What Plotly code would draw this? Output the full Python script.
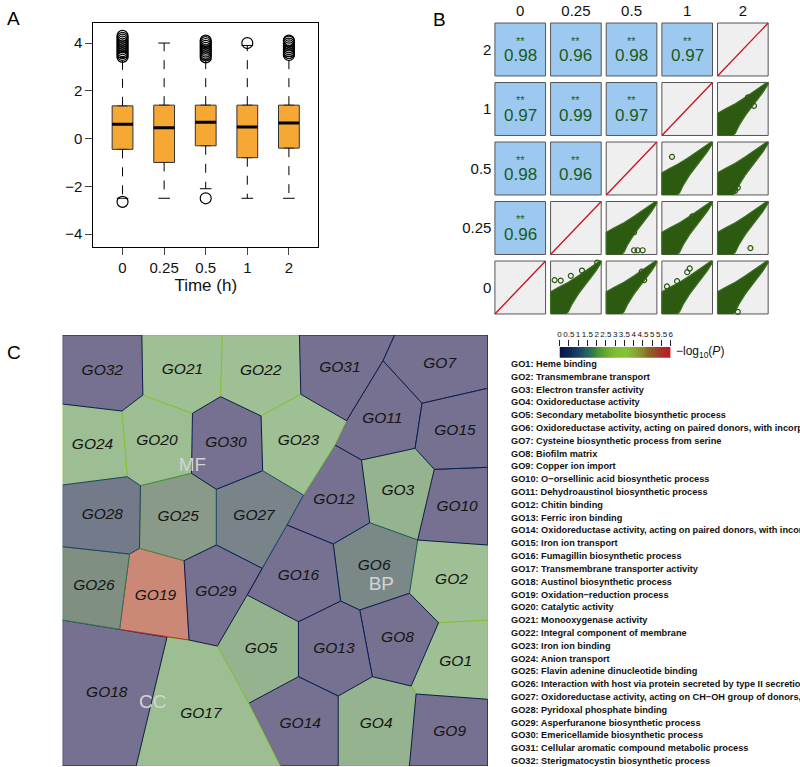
import plotly.graph_objects as go
import numpy as np

W, H = 800, 767
FONT = "Liberation Sans, Arial, sans-serif"

# ---------------- Panel A data ----------------
times = ["0", "0.25", "0.5", "1", "2"]
box_q1 = [-0.45, -1.0, -0.3, -0.8, -0.4]
box_med = [0.6, 0.45, 0.68, 0.48, 0.65]
box_q3 = [1.37, 1.4, 1.4, 1.4, 1.4]
whisk_lo = [-2.5, -2.5, -2.1, -2.5, -2.5]
whisk_hi = [3.4, 4.0, 3.3, 3.9, 3.45]
out_t0 = [3.42, 3.5, 3.58, 3.66, 3.74, 3.82, 3.9, 3.98, 4.06, 4.14, 4.22, 4.3, -2.65]
out_t025 = []
out_t05 = [3.4, 3.48, 3.56, 3.64, 3.72, 3.8, 3.88, 3.96, 4.04, 4.1, -2.5]
out_t1 = [4.0]
out_t2 = [3.5, 3.58, 3.66, 3.74, 3.82, 3.9, 3.98, 4.06, 4.1]
outliers = [out_t0, out_t025, out_t05, out_t1, out_t2]

# ---------------- Panel B data ----------------
labels_B = ["0", "0.25", "0.5", "1", "2"]
cor_rows = [4, 4, 4, 4, 3, 3, 3, 2, 2, 1]
cor_cols = [0, 1, 2, 3, 0, 1, 2, 0, 1, 0]
cor_vals = ["0.98", "0.96", "0.98", "0.97", "0.97", "0.99", "0.97", "0.98", "0.96", "0.96"]
# scatter cloud envelope (unit coords inside a cell)
env_u = [0.0, 0.0, 0.15, 0.35, 0.55, 0.75, 0.9, 0.97, 1.0, 1.0, 0.9, 0.72, 0.55, 0.42, 0.35, 0.3]
env_v = [0.0, 0.42, 0.5, 0.6, 0.72, 0.85, 0.95, 1.0, 1.0, 0.97, 0.82, 0.6, 0.38, 0.18, 0.04, 0.0]
sc_rows = [0, 0, 0, 0, 1, 1, 1, 2, 2, 3]
sc_cols = [1, 2, 3, 4, 2, 3, 4, 3, 4, 4]
sc_out_u = [[0.08, 0.2, 0.4, 0.62, 0.92], [0.1, 0.7, 0.75, 0.3], [0.1, 0.55, 0.5, 0.3],
            [0.4, 0.6, 0.72], [0.55, 0.62, 0.72, 0.55], [0.4, 0.6], [0.65, 0.5],
            [0.2, 0.4], [0.35, 0.4, 0.5], [0.5, 0.72, 0.6]]
sc_out_v = [[0.64, 0.63, 0.72, 0.82, 0.97], [0.3, 0.8, 0.64, 0.42], [0.52, 0.86, 0.79, 0.62],
            [0.04, 0.62, 0.74], [0.08, 0.08, 0.08, 0.42], [0.52, 0.72], [0.12, 0.52],
            [0.72, 0.57], [0.08, 0.14, 0.57], [0.52, 0.56, 0.72]]

# ---------------- Panel C data ----------------
go_names = ["GO%d" % i for i in range(1, 33)]
go_logp = [3.5, 3.5, 2.8, 2.8, 2.8, 1.3, 0.3, 0.3, 0.3, 0.3, 0.3, 0.3, 0.3, 0.3, 0.3, 0.3,
           3.4, 0.3, 5.5, 3.4, 3.5, 3.5, 3.5, 3.4, 2.0, 1.7, 1.2, 1.0, 0.3, 0.3, 0.3, 0.3]
go_desc = [
    "Heme binding", "Transmembrane transport", "Electron transfer activity",
    "Oxidoreductase activity", "Secondary metabolite biosynthetic process",
    "Oxidoreductase activity, acting on paired donors, with incorporation or reduction of molecular oxygen",
    "Cysteine biosynthetic process from serine", "Biofilm matrix", "Copper ion import",
    "O\u2212orsellinic acid biosynthetic process", "Dehydroaustinol biosynthetic process",
    "Chitin binding", "Ferric iron binding",
    "Oxidoreductase activity, acting on paired donors, with incorporation or reduction of molecular oxygen",
    "Iron ion transport", "Fumagillin biosynthetic process", "Transmembrane transporter activity",
    "Austinol biosynthetic process", "Oxidation\u2212reduction process", "Catalytic activity",
    "Monooxygenase activity", "Integral component of membrane", "Iron ion binding",
    "Anion transport", "Flavin adenine dinucleotide binding",
    "Interaction with host via protein secreted by type II secretion system",
    "Oxidoreductase activity, acting on CH\u2212OH group of donors, NAD or NADP as acceptor",
    "Pyridoxal phosphate binding", "Asperfuranone biosynthetic process",
    "Emericellamide biosynthetic process", "Cellular aromatic compound metabolic process",
    "Sterigmatocystin biosynthetic process",
]
# Voronoi cell vertices (treemap coordinate space)
GO1_xy = [(439.3, 622.7), (488.7, 620), (488.7, 699.3), (416.7, 694), (411.7, 686)]
GO2_xy = [(418.3, 540), (488.7, 545), (488.7, 620), (439.3, 622.7), (410, 593.3)]
GO3_xy = [(361.7, 460), (415.7, 448.3), (435, 469.3), (418.3, 540), (370, 522.7)]
GO4_xy = [(338.3, 696), (372.7, 676.7), (411.7, 686), (416.7, 694), (410, 766), (338.3, 766)]
GO5_xy = [(216.7, 646), (246.7, 595), (298.3, 621.7), (298.3, 676.7), (248.3, 703.3)]
GO6_xy = [(333.3, 544), (370, 522.7), (418.3, 540), (410, 593.3), (360, 610), (340.7, 601)]
GO7_xy = [(395, 335), (488.7, 335), (488.7, 388.3), (422.7, 403.3), (383.3, 360.7)]
GO8_xy = [(360, 610), (410, 593.3), (439.3, 622.7), (411.7, 686), (372.7, 676.7)]
GO9_xy = [(416.7, 694), (488.7, 699.3), (488.7, 766), (410, 766)]
GO10_xy = [(435, 469.3), (488.7, 467.3), (488.7, 545), (418.3, 540)]
GO11_xy = [(383.3, 360.7), (422.7, 403.3), (415.7, 448.3), (361.7, 460), (335, 445), (346.7, 420.7)]
GO12_xy = [(335, 445), (361.7, 460), (370, 522.7), (333.3, 544), (286.7, 525), (303.3, 495)]
GO13_xy = [(298.3, 621.7), (340.7, 601), (360, 610), (372.7, 676.7), (338.3, 696), (298.3, 676.7)]
GO14_xy = [(248.3, 703.3), (298.3, 676.7), (338.3, 696), (338.3, 766), (280, 766)]
GO15_xy = [(422.7, 403.3), (488.7, 388.3), (488.7, 467.3), (435, 469.3), (415.7, 448.3)]
GO16_xy = [(286.7, 525), (333.3, 544), (340.7, 601), (298.3, 621.7), (246.7, 595), (261.7, 568.3)]
GO17_xy = [(166, 637.3), (188.3, 640), (216.7, 646), (248.3, 703.3), (280, 766), (135, 766)]
GO18_xy = [(61, 620), (118.3, 629.3), (166, 637.3), (135, 766), (61, 766)]
GO19_xy = [(128.3, 554), (138.3, 548.3), (183.3, 560.7), (188.3, 640), (118.3, 629.3)]
GO20_xy = [(141.7, 395), (191.7, 413.3), (190.7, 473.3), (139.3, 485.7), (126, 476.7), (120.7, 411)]
GO21_xy = [(140.7, 335), (221.7, 335), (220, 396.7), (191.7, 413.3), (141.7, 395)]
GO22_xy = [(221.7, 335), (299.3, 335), (300.7, 394.3), (260.7, 416), (220, 396.7)]
GO23_xy = [(260.7, 416), (300.7, 394.3), (346.7, 420.7), (335, 445), (303.3, 495), (262.3, 470.7)]
GO24_xy = [(61, 404), (120.7, 411), (126, 476.7), (61, 485)]
GO25_xy = [(139.3, 485.7), (190.7, 473.3), (215.7, 489.3), (215.7, 545), (183.3, 560.7), (138.3, 548.3)]
GO26_xy = [(61, 546.7), (128.3, 554), (118.3, 629.3), (61, 620)]
GO27_xy = [(215.7, 489.3), (262.3, 470.7), (303.3, 495), (286.7, 525), (261.7, 568.3), (215.7, 545)]
GO28_xy = [(61, 485), (126, 476.7), (139.3, 485.7), (138.3, 548.3), (128.3, 554), (61, 546.7)]
GO29_xy = [(183.3, 560.7), (215.7, 545), (261.7, 568.3), (246.7, 595), (216.7, 646), (188.3, 640)]
GO30_xy = [(191.7, 413.3), (220, 396.7), (260.7, 416), (262.3, 470.7), (215.7, 489.3), (190.7, 473.3)]
GO31_xy = [(299.3, 335), (395, 335), (383.3, 360.7), (346.7, 420.7), (300.7, 394.3)]
GO32_xy = [(61, 335), (140.7, 335), (141.7, 395), (120.7, 411), (61, 404)]
go_polys = [GO1_xy, GO2_xy, GO3_xy, GO4_xy, GO5_xy, GO6_xy, GO7_xy, GO8_xy, GO9_xy, GO10_xy,
            GO11_xy, GO12_xy, GO13_xy, GO14_xy, GO15_xy, GO16_xy, GO17_xy, GO18_xy, GO19_xy,
            GO20_xy, GO21_xy, GO22_xy, GO23_xy, GO24_xy, GO25_xy, GO26_xy, GO27_xy, GO28_xy,
            GO29_xy, GO30_xy, GO31_xy, GO32_xy]
ont_names = ["MF", "BP", "CC"]
ont_x = [191.7, 381.7, 151.7]
ont_y = [466.7, 585, 703.3]
cb_ticks = [0, 0.5, 1, 1.5, 2, 2.5, 3, 3.5, 4, 4.5, 5, 5.5, 6]

# colour scales
vivid_scale = [(0.0, "#0a1045"), (0.1, "#0f2a5a"), (0.2, "#1f4f6a"), (0.27, "#2c6a5a"),
               (0.33, "#3f8a3a"), (0.42, "#6aaa30"), (0.5, "#7fbe2e"), (0.6, "#86c23a"),
               (0.7, "#8aa030"), (0.8, "#8a6a28"), (0.9, "#a03a2a"), (1.0, "#cc1020")]
fill_scale = [(0.0, "#756f8f"), (0.1, "#787390"), (0.167, "#737b8a"), (0.217, "#7a8888"),
              (0.283, "#7f8f82"), (0.333, "#8a9a88"), (0.467, "#94b38e"), (0.583, "#9fbf94"),
              (0.75, "#b3a883"), (0.917, "#cc8877"), (1.0, "#d0806f")]


def hex2rgb(h):
    h = h.lstrip("#")
    return [int(h[i:i + 2], 16) for i in (0, 2, 4)]


def scale_color(scale, v, vmax=6.0):
    t = min(max(v / vmax, 0), 1)
    for (a, ca), (b, cb) in zip(scale[:-1], scale[1:]):
        if a <= t <= b:
            f = (t - a) / (b - a) if b > a else 0
            r1, r2 = hex2rgb(ca), hex2rgb(cb)
            c = [round(r1[k] + f * (r2[k] - r1[k])) for k in range(3)]
            return "rgb(%d,%d,%d)" % tuple(c)
    return scale[-1][1]


def pxx(x):
    return x / W


def pyy(y):
    return 1 - y / H


fig = go.Figure()

# ================= Panel A =================
xpos = [1, 2, 3, 4, 5]
fig.add_trace(go.Box(x=xpos, q1=box_q1, median=box_med, q3=box_q3,
                     lowerfence=box_q1, upperfence=box_q3, width=0.5,
                     fillcolor="#F5A834", line=dict(color="#333333", width=1),
                     boxpoints=False, hoverinfo="skip", xaxis="x", yaxis="y"))
for i, xp in enumerate(xpos):
    fig.add_trace(go.Scatter(x=[xp, xp, None, xp, xp], y=[box_q3[i], whisk_hi[i], None, box_q1[i], whisk_lo[i]],
                             mode="lines", line=dict(color="black", width=1, dash="dash"),
                             xaxis="x", yaxis="y", hoverinfo="skip"))
    fig.add_trace(go.Scatter(x=[xp - 0.14, xp + 0.14, None, xp - 0.14, xp + 0.14],
                             y=[whisk_hi[i], whisk_hi[i], None, whisk_lo[i], whisk_lo[i]],
                             mode="lines", line=dict(color="black", width=1),
                             xaxis="x", yaxis="y", hoverinfo="skip"))
    fig.add_trace(go.Scatter(x=[xp - 0.25, xp + 0.25], y=[box_med[i], box_med[i]], mode="lines",
                             line=dict(color="black", width=3), xaxis="x", yaxis="y", hoverinfo="skip"))
    if outliers[i]:
        fig.add_trace(go.Scatter(x=[xp] * len(outliers[i]), y=outliers[i], mode="markers",
                                 marker=dict(symbol="circle-open", size=11, color="black",
                                             line=dict(width=1.2, color="black")),
                                 xaxis="x", yaxis="y", hoverinfo="skip"))

# ================= Panel B =================
HW, HH = 0.455, 0.445
shapes = []
for r in range(5):
    for c in range(5):
        fc = "#9DC9F1" if c < r else "#EFEFEF"
        shapes.append(dict(type="rect", xref="x2", yref="y2", x0=c - HW, x1=c + HW, y0=r - HH, y1=r + HH,
                           fillcolor=fc, line=dict(color="#555555", width=1), layer="below"))
        if c == r:
            fig.add_trace(go.Scatter(x=[c - HW, c + HW], y=[r - HH, r + HH], mode="lines",
                                     line=dict(color="#cc1020", width=1.3), xaxis="x2", yaxis="y2",
                                     hoverinfo="skip"))
for k in range(len(sc_rows)):
    r, c = sc_rows[k], sc_cols[k]
    ex = [c - HW + u * 2 * HW for u in env_u]
    ey = [r - HH + v * 2 * HH for v in env_v]
    fig.add_trace(go.Scatter(x=ex, y=ey, mode="lines", fill="toself", fillcolor="#2b5a10",
                             line=dict(color="#3d6e22", width=1.2), xaxis="x2", yaxis="y2", hoverinfo="skip"))
    ox = [c - HW + u * 2 * HW for u in sc_out_u[k]]
    oy = [r - HH + v * 2 * HH for v in sc_out_v[k]]
    fig.add_trace(go.Scatter(x=ox, y=oy, mode="markers",
                             marker=dict(symbol="circle-open", size=5, color="#2b5a10",
                                         line=dict(width=1.2, color="#2b5a10")),
                             xaxis="x2", yaxis="y2", hoverinfo="skip"))

annotations = []
for k in range(len(cor_rows)):
    r, c = cor_rows[k], cor_cols[k]
    annotations.append(dict(x=c, y=r, xref="x2", yref="y2", text="**", showarrow=False, yshift=9,
                            font=dict(family=FONT, size=11, color="#1b5a1b")))
    annotations.append(dict(x=c, y=r, xref="x2", yref="y2", text=cor_vals[k], showarrow=False, yshift=-6,
                            font=dict(family=FONT, size=17, color="#1b5a1b")))

# ================= Panel C =================
def centroid(poly):
    xs = [p[0] for p in poly] + [poly[0][0]]
    ys = [p[1] for p in poly] + [poly[0][1]]
    a = cx = cy = 0.0
    for i in range(len(poly)):
        cr = xs[i] * ys[i + 1] - xs[i + 1] * ys[i]
        a += cr
        cx += (xs[i] + xs[i + 1]) * cr
        cy += (ys[i] + ys[i + 1]) * cr
    a *= 0.5
    return cx / (6 * a), cy / (6 * a)

lab_x, lab_y = [], []
for i, poly in enumerate(go_polys):
    xs = [p[0] for p in poly] + [poly[0][0]]
    ys = [p[1] for p in poly] + [poly[0][1]]
    fig.add_trace(go.Scatter(x=xs, y=ys, mode="lines", fill="toself",
                             fillcolor=scale_color(fill_scale, go_logp[i]),
                             line=dict(color=scale_color(vivid_scale, go_logp[i]), width=1),
                             xaxis="x3", yaxis="y3", hoverinfo="skip"))
    cx, cy = centroid(poly)
    lab_x.append(cx)
    lab_y.append(cy)
fig.add_trace(go.Scatter(x=lab_x, y=lab_y, mode="text", text=go_names,
                         textfont=dict(family=FONT, size=15.5, color="#151515", style="italic"),
                         xaxis="x3", yaxis="y3", hoverinfo="skip"))
fig.add_trace(go.Scatter(x=ont_x, y=ont_y, mode="text", text=ont_names,
                         textfont=dict(family=FONT, size=19, color="#d4d4d4"),
                         xaxis="x3", yaxis="y3", hoverinfo="skip"))

# colour bar (heatmap ramp)
ramp = list(np.arange(0.025, 6.0, 0.05))
fig.add_trace(go.Heatmap(x=ramp, y=[0], z=[ramp], zmin=0, zmax=6,
                         colorscale=[[a, c] for a, c in vivid_scale], showscale=False,
                         xaxis="x4", yaxis="y4", hoverinfo="skip"))

for i in range(32):
    annotations.append(dict(x=pxx(510), y=pyy(364 + i * 12.806), xref="paper", yref="paper",
                            xanchor="left", yanchor="middle", showarrow=False,
                            text="<b>%s: %s</b>" % (go_names[i], go_desc[i]),
                            font=dict(family=FONT, size=9.2, color="#111111")))
annotations.append(dict(x=pxx(676), y=pyy(352), xref="paper", yref="paper", xanchor="left",
                        yanchor="middle", showarrow=False, text="\u2212log<sub>10</sub>(<i>P</i>)",
                        font=dict(family=FONT, size=12, color="#111111")))
for t, x, y in [("A", 12, 18), ("B", 440, 20), ("C", 12, 352)]:
    annotations.append(dict(x=pxx(x), y=pyy(y), xref="paper", yref="paper", xanchor="center",
                            yanchor="middle", showarrow=False, text=t,
                            font=dict(family=FONT, size=19, color="black")))

ax_common = dict(showgrid=False, zeroline=False)
fig.update_layout(
    width=W, height=H, margin=dict(l=0, r=0, t=0, b=0), paper_bgcolor="white", plot_bgcolor="white",
    showlegend=False, shapes=shapes, annotations=annotations,
    font=dict(family=FONT),
    xaxis=dict(domain=[pxx(92), pxx(318)], range=[0.3, 5.7], tickvals=xpos, ticktext=times,
               ticks="outside", ticklen=7, showline=True, mirror=True, linecolor="black",
               tickfont=dict(size=15, color="#111"), anchor="y",
               title=dict(text="Time (h)", font=dict(size=17, color="#111"), standoff=2), **ax_common),
    yaxis=dict(domain=[pyy(247), pyy(23)], range=[-4.54, 4.84], tickvals=[-4, -2, 0, 2, 4],
               ticks="outside", ticklen=7, showline=True, mirror=True, linecolor="black",
               tickfont=dict(size=15, color="#111"), anchor="x", **ax_common),
    xaxis2=dict(domain=[pxx(493.5), pxx(773.5)], range=[-0.5, 4.5], tickvals=[0, 1, 2, 3, 4],
                ticktext=labels_B, side="top", showline=False, ticks="", anchor="y2",
                tickfont=dict(size=15, color="#111"), **ax_common),
    yaxis2=dict(domain=[pyy(317.25), pyy(19.75)], range=[-0.5, 4.5], tickvals=[0, 1, 2, 3, 4],
                ticktext=labels_B, showline=False, ticks="", anchor="x2",
                tickfont=dict(size=15, color="#111"), **ax_common),
    xaxis3=dict(domain=[pxx(61), pxx(489)], range=[61, 489], visible=False, anchor="y3", **ax_common),
    yaxis3=dict(domain=[pyy(766), pyy(335)], range=[766, 335], visible=False, anchor="x3", **ax_common),
    xaxis4=dict(domain=[pxx(561), pxx(673)], range=[0, 6], tickvals=cb_ticks, side="top",
                ticks="outside", ticklen=6, tickcolor="#222", tickangle=0,
                tickfont=dict(size=8, color="#111"), anchor="y4", **ax_common),
    yaxis4=dict(domain=[pyy(357.7), pyy(347)], range=[-0.5, 0.5], visible=False, anchor="x4", **ax_common),
)

fig.write_html("out.html", config={"displayModeBar": False},
               post_script="document.body.style.margin='0px';document.body.style.overflow='hidden';")
